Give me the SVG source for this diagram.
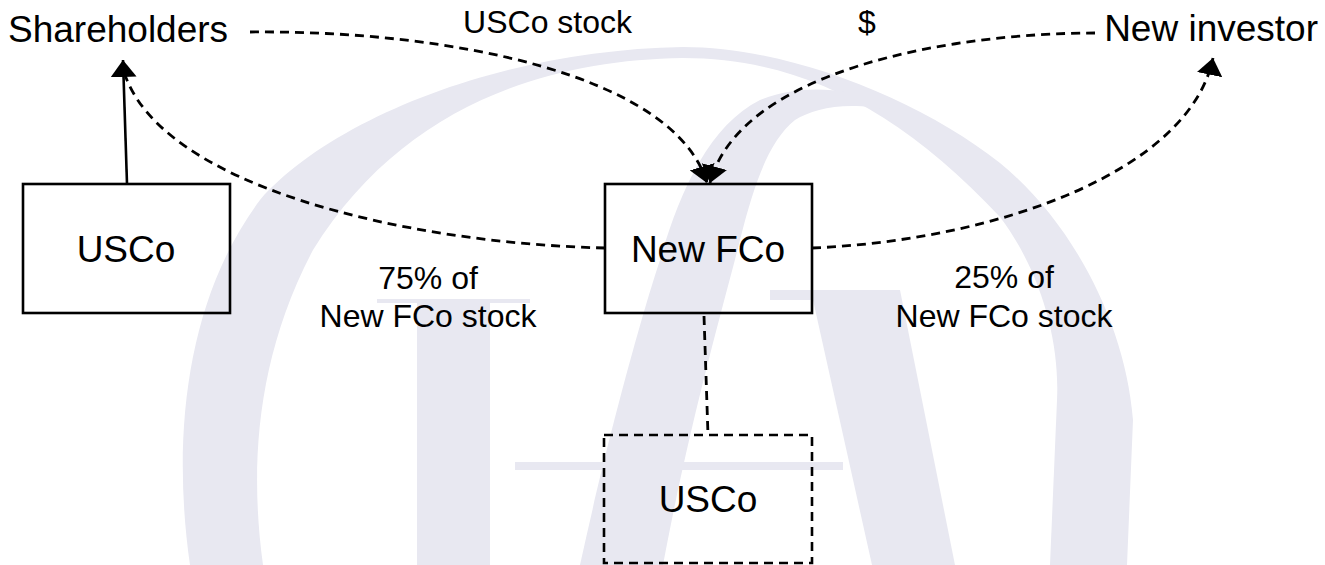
<svg xmlns="http://www.w3.org/2000/svg" width="1325" height="565" viewBox="0 0 1325 565">
  <style>
    .wm { fill: #e8e8f1; stroke: none; }
    .box { fill: none; stroke: #000; stroke-width: 2.6; }
    .dbox { fill: none; stroke: #000; stroke-width: 2.6; stroke-dasharray: 9 6; }
    .dash { fill: none; stroke: #000; stroke-width: 2.8; stroke-dasharray: 9 6; }
    .solid { fill: none; stroke: #000; stroke-width: 2.6; }
    .big { font-family: "Liberation Sans", Arial, sans-serif; font-size: 37px; fill: #000; }
    .small { font-family: "Liberation Sans", Arial, sans-serif; font-size: 32px; fill: #000; }
  </style>
  <defs>
    <marker id="ah" markerUnits="userSpaceOnUse" markerWidth="17" markerHeight="26" viewBox="0 0 17 26" refX="17" refY="13" orient="auto">
      <path d="M0,0 L17,13 L0,26 Z" fill="#000"/>
    </marker>
  </defs>
  <rect width="1325" height="565" fill="#fff"/>

  <g id="watermark">
    <path class="wm" fill-rule="evenodd" d="M 190 565 C 172 440 185 300 260 200 C 330 120 500 50 683 47 C 790 47 920 100 1000 163 C 1070 220 1125 320 1133 420 L 1127 565 Z
      M 263 565 C 250 470 255 360 313 250 C 400 110 540 60 683 58 C 800 58 900 110 1000 217 C 1040 270 1060 340 1057 400 L 1050 565 Z"/>
    <path class="wm" d="M 580 565 C 605 450 640 320 660 260 C 680 190 710 125 760 100 C 790 88 820 88 848 92 L 895 112 C 850 100 815 108 795 120 C 770 140 755 180 740 240 C 725 300 690 420 663 565 Z"/>
    <path class="wm" d="M 770 290 L 900 290 L 955 565 L 872 565 L 813 300 L 770 300 Z"/>
    <rect class="wm" x="417" y="302" width="73" height="263"/>
    <rect class="wm" x="377" y="299" width="153" height="4"/>
    <rect class="wm" x="515" y="462" width="328" height="8"/>
  </g>

  <g id="connectors">
    <path class="solid" d="M 127 184 L 123 60" marker-end="url(#ah)"/>
    <path class="dash" d="M 605 248 C 400 243 160 185 124 72"/>
    <path class="dash" d="M 250 32 C 450 30 675 75 707 183" marker-end="url(#ah)"/>
    <path class="dash" d="M 1095 33 C 950 33 740 70 710 183" marker-end="url(#ah)"/>
    <path class="dash" d="M 812 248 C 1000 240 1190 170 1213 58" marker-end="url(#ah)"/>
    <path class="dash" d="M 704 316 L 708 435"/>
  </g>

  <g id="shareholders">
    <text class="big" x="8" y="42">Shareholders</text>
  </g>
  <g id="new-investor">
    <text class="big" x="1318" y="41" text-anchor="end">New investor</text>
  </g>
  <g id="usco">
    <rect class="box" x="23" y="184" width="207" height="129"/>
    <text class="big" x="126" y="262" text-anchor="middle">USCo</text>
  </g>
  <g id="new-fco">
    <rect class="box" x="605" y="184" width="207" height="129"/>
    <text class="big" x="708" y="262" text-anchor="middle">New FCo</text>
  </g>
  <g id="usco-sub">
    <rect class="dbox" x="604" y="435" width="208" height="128"/>
    <text class="big" x="708" y="512" text-anchor="middle">USCo</text>
  </g>
  <g id="labels">
    <text class="small" x="632" y="33" text-anchor="end">USCo stock</text>
    <text class="small" x="858" y="33">$</text>
    <text class="small" x="428" y="289" text-anchor="middle">75% of</text>
    <text class="small" x="428" y="327" text-anchor="middle">New FCo stock</text>
    <text class="small" x="1004" y="288" text-anchor="middle">25% of</text>
    <text class="small" x="1004" y="327" text-anchor="middle">New FCo stock</text>
  </g>
</svg>
